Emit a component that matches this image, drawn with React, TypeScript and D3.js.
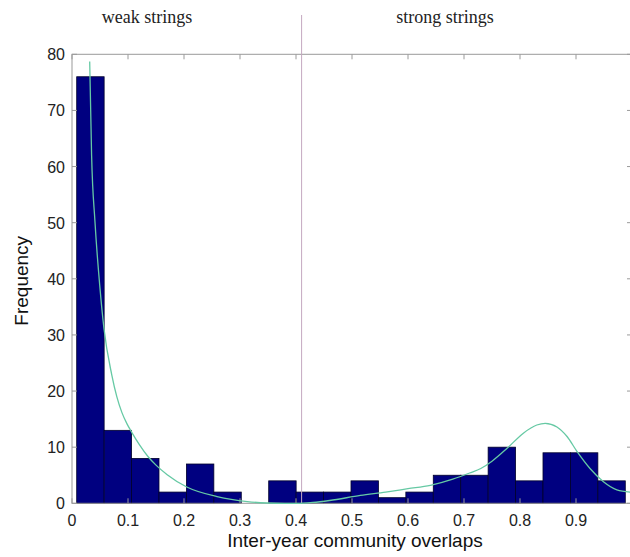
import * as d3 from "d3";
import React, { useEffect, useRef } from "react";

// histogram counts, 20 equal bins between the data min and max
const counts = [76, 13, 8, 2, 7, 2, 0, 4, 2, 2, 4, 1, 2, 5, 5, 10, 4, 9, 9, 4];
const binRange = [0.0084, 0.988];

// fitted curves: [overlap, frequency]
const weakFit: [number, number][] = [
  [0.0316, 78.7], [0.035, 62], [0.041, 50.2], [0.05, 38.3], [0.057, 31.2],
  [0.071, 22.9], [0.08, 19.0], [0.089, 16.2], [0.098, 14.2], [0.107, 12.6],
  [0.12, 10.5], [0.136, 8.3], [0.15, 6.8], [0.17, 5.1], [0.205, 2.9],
  [0.259, 1.2], [0.313, 0.3], [0.348, 0.05], [0.38, 0], [0.407, 0],
];
const strongFit: [number, number][] = [
  [0.407, 0], [0.43, 0.15], [0.46, 0.5], [0.515, 1.4], [0.56, 2.0], [0.6, 2.6],
  [0.64, 3.2], [0.68, 4.3], [0.71, 5.4], [0.73, 6.2], [0.75, 7.5], [0.777, 9.8],
  [0.806, 12.5], [0.83, 13.95], [0.845, 14.25], [0.866, 13.6], [0.884, 11.9],
  [0.902, 9.2], [0.925, 6.2], [0.949, 3.85], [0.973, 2.4], [0.997, 2.0],
];

const xTicks = [0, 0.1, 0.2, 0.3, 0.4, 0.5, 0.6, 0.7, 0.8, 0.9];
const yTicks = [0, 10, 20, 30, 40, 50, 60, 70, 80];
const splitAt = 0.41;
const regionLabels = [
  { text: "weak strings", x: 0.134 },
  { text: "strong strings", x: 0.666 },
];

const Chart = () => {
  const svgRef = useRef<SVGSVGElement>(null);

  useEffect(() => {
    const svg = d3.select(svgRef.current);
    svg.selectAll("*").remove();

    const left = 72, right = 632, top = 54.3, bottom = 503.3;
    const x = d3.scaleLinear().domain([0, 1]).range([left, right]);
    const y = d3.scaleLinear().domain([0, 80]).range([bottom, top]);
    const sans = "'Liberation Sans', Arial, sans-serif";
    const axisColor = "#9a9a9a";

    // bars
    const bw = (binRange[1] - binRange[0]) / counts.length;
    svg.append("g")
      .selectAll("rect")
      .data(counts)
      .enter()
      .append("rect")
      .attr("x", (d, i) => x(binRange[0] + i * bw))
      .attr("width", (d, i) => x(binRange[0] + (i + 1) * bw) - x(binRange[0] + i * bw))
      .attr("y", (d) => y(d))
      .attr("height", (d) => y(0) - y(d))
      .attr("fill", "#000080")
      .attr("stroke", "#00002a")
      .attr("stroke-width", 0.8);

    // box
    svg.append("rect")
      .attr("x", left).attr("y", top)
      .attr("width", right - left).attr("height", bottom - top)
      .attr("fill", "none").attr("stroke", axisColor).attr("stroke-width", 1);

    // inward ticks
    const tk = 5;
    const tg = svg.append("g").attr("stroke", axisColor).attr("stroke-width", 1);
    xTicks.forEach((t) => {
      tg.append("line").attr("x1", x(t)).attr("x2", x(t)).attr("y1", bottom).attr("y2", bottom - tk);
      tg.append("line").attr("x1", x(t)).attr("x2", x(t)).attr("y1", top).attr("y2", top + tk);
    });
    yTicks.forEach((t) => {
      tg.append("line").attr("x1", left).attr("x2", left + tk).attr("y1", y(t)).attr("y2", y(t));
      tg.append("line").attr("x1", right).attr("x2", right - tk).attr("y1", y(t)).attr("y2", y(t));
    });

    // tick labels
    svg.append("g")
      .selectAll("text")
      .data(xTicks)
      .enter()
      .append("text")
      .attr("x", (d) => x(d))
      .attr("y", bottom + 23)
      .attr("text-anchor", "middle")
      .style("font-family", sans)
      .style("font-size", "16px")
      .attr("fill", "#222")
      .text((d) => (d === 0 ? "0" : d3.format(".1f")(d)));

    svg.append("g")
      .selectAll("text")
      .data(yTicks)
      .enter()
      .append("text")
      .attr("x", left - 7)
      .attr("y", (d) => y(d) + 6)
      .attr("text-anchor", "end")
      .style("font-family", sans)
      .style("font-size", "16px")
      .attr("fill", "#222")
      .text((d) => d);

    // split line
    svg.append("line")
      .attr("x1", x(splitAt)).attr("x2", x(splitAt))
      .attr("y1", 15).attr("y2", bottom)
      .attr("stroke", "#c4a8c0").attr("stroke-width", 1);

    // fitted curves
    const line = d3.line<[number, number]>()
      .x((d) => x(d[0]))
      .y((d) => y(d[1]))
      .curve(d3.curveMonotoneX);
    [weakFit, strongFit].forEach((fit) => {
      svg.append("path")
        .datum(fit)
        .attr("fill", "none")
        .attr("stroke", "#66c9a4")
        .attr("stroke-width", 1.3)
        .attr("d", line);
    });

    // region labels
    svg.append("g")
      .selectAll("text")
      .data(regionLabels)
      .enter()
      .append("text")
      .attr("x", (d) => x(d.x))
      .attr("y", 23)
      .attr("text-anchor", "middle")
      .style("font-family", "'Liberation Serif', 'Times New Roman', serif")
      .style("font-size", "18px")
      .attr("fill", "#222")
      .text((d) => d.text);

    // axis titles
    svg.append("text")
      .attr("x", 355)
      .attr("y", 547)
      .attr("text-anchor", "middle")
      .style("font-family", sans)
      .style("font-size", "19px")
      .attr("fill", "#111")
      .text("Inter-year community overlaps");

    svg.append("text")
      .attr("transform", `translate(28,${(top + bottom) / 2 + 2}) rotate(-90)`)
      .attr("text-anchor", "middle")
      .style("font-family", sans)
      .style("font-size", "19px")
      .attr("fill", "#111")
      .text("Frequency");
  }, []);

  return (
    <svg
      ref={svgRef}
      width={630}
      height={557}
      style={{ position: "absolute", left: 0, top: 0, background: "#fff" }}
    />
  );
};

export default function App() {
  return <Chart />;
}
